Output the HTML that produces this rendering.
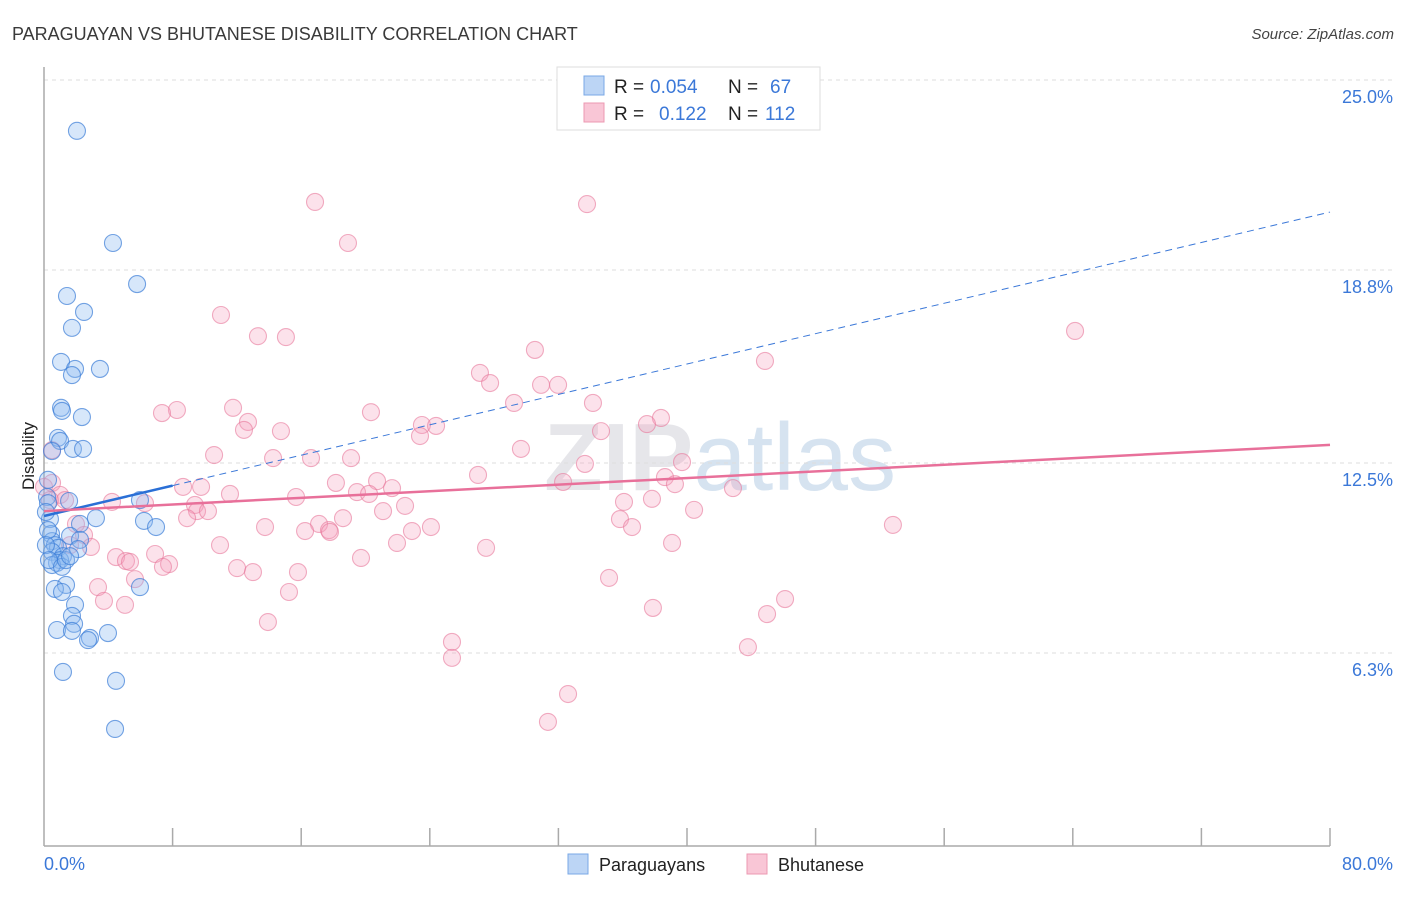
<!DOCTYPE html>
<html><head><meta charset="utf-8"><style>
body{margin:0;background:#fff;font-family:"Liberation Sans",sans-serif;}
svg text{font-family:"Liberation Sans",sans-serif;}
</style></head><body>
<svg width="1406" height="892" viewBox="0 0 1406 892" xmlns="http://www.w3.org/2000/svg">
<text x="12" y="40" font-size="18" fill="#3a3a3a">PARAGUAYAN VS BHUTANESE DISABILITY CORRELATION CHART</text>
<text x="1394" y="39" font-size="15" fill="#444" text-anchor="end" font-style="italic">Source: ZipAtlas.com</text>
<text x="720" y="490" font-size="96" fill="#e6e6ea" text-anchor="middle" font-weight="bold">ZIP<tspan fill="#d6e3f0" font-weight="normal">atlas</tspan></text>
<g id="grid"></g>
<line x1="44" y1="67" x2="44" y2="846" stroke="#aaa" stroke-width="1.5"/>
<line x1="44" y1="846" x2="1330" y2="846" stroke="#aaa" stroke-width="1.5"/>
<g id="xticks"></g>
<text transform="translate(34,456) rotate(-90)" font-size="17" fill="#222" text-anchor="middle">Disability</text>
<text x="44" y="870" font-size="18" fill="#3b78d8">0.0%</text>
<text x="1393" y="870" font-size="18" fill="#3b78d8" text-anchor="end">80.0%</text>
<g id="pink"></g><g id="blue"></g><g id="lines"></g>
<g>
<rect x="557" y="67" width="263" height="63" fill="#fff" stroke="#ddd"/>
<rect x="584" y="76" width="20" height="19" fill="#bcd5f5" stroke="#7aa8e6"/>
<rect x="584" y="103" width="20" height="19" fill="#f9c6d6" stroke="#ec98b2"/>
<text x="614" y="93" font-size="19" fill="#222">R =</text>
<text x="650" y="93" font-size="19" fill="#3b78d8">0.054</text>
<text x="728" y="93" font-size="19" fill="#222">N =</text>
<text x="770" y="93" font-size="19" fill="#3b78d8">67</text>
<text x="614" y="120" font-size="19" fill="#222">R =</text>
<text x="659" y="120" font-size="19" fill="#3b78d8">0.122</text>
<text x="728" y="120" font-size="19" fill="#222">N =</text>
<text x="765" y="120" font-size="19" fill="#3b78d8">112</text>
</g>
<g><rect x="568" y="854" width="20" height="20" fill="#bcd5f5" stroke="#7aa8e6"/><text x="599" y="871" font-size="18" fill="#222">Paraguayans</text></g>
<g><rect x="747" y="854" width="20" height="20" fill="#f9c6d6" stroke="#ec98b2"/><text x="778" y="871" font-size="18" fill="#222">Bhutanese</text></g>
</svg>
<script>
const yTicks=[6.3,12.5,18.8,25.0];
const yTickLabels=["6.3%","12.5%","18.8%","25.0%"];
const blueX=[2.05,4.29,5.79,1.43,2.49,1.74,1.06,1.93,1.74,3.48,1.06,1.12,2.36,0.87,1.00,1.80,2.43,0.50,0.25,0.19,1.56,0.25,5.97,0.37,3.23,2.24,6.22,6.97,0.44,1.62,2.24,0.50,0.68,0.87,0.50,1.18,1.00,2.12,0.81,0.50,1.37,0.68,1.12,5.97,1.93,1.74,1.87,0.81,1.74,3.98,2.86,2.74,1.18,4.48,4.42,0.25,0.12,0.12,0.31,1.12,1.37,1.62];
const blueY=[23.34,19.68,18.34,17.95,17.43,16.91,15.80,15.57,15.37,15.57,14.30,14.20,14.00,13.32,13.22,12.96,12.96,12.89,11.95,11.39,11.26,11.19,11.29,10.67,10.70,10.51,10.61,10.41,10.18,10.12,9.99,9.95,9.82,9.73,9.60,9.46,9.33,9.69,9.24,9.17,8.52,8.39,8.29,8.45,7.87,7.51,7.25,7.05,7.02,6.95,6.79,6.72,5.68,5.39,3.82,10.31,10.90,9.82,9.33,9.11,9.33,9.46];
const pinkX=[16.86,33.78,18.91,64.14,11.01,13.31,15.05,30.54,44.85,27.12,27.75,30.92,31.98,29.24,34.15,8.27,7.34,11.76,20.34,12.69,12.44,14.74,23.51,24.39,23.39,34.65,38.38,37.51,29.67,10.58,14.25,16.61,19.10,33.65,39.69,27.00,38.63,39.25,32.29,18.16,20.72,21.65,8.65,9.77,42.86,19.47,11.57,15.68,20.22,0.0,0.50,1.00,0.37,1.31,4.23,6.28,9.39,9.52,10.20,36.08,37.82,22.46,21.09,8.90,18.60,13.75,17.11,17.73,16.24,17.79,22.89,24.07,35.83,36.58,40.44,52.81,1.99,2.49,2.92,1.62,10.95,21.96,27.50,39.07,6.91,4.48,5.10,5.35,7.78,7.40,12.01,13.00,15.80,19.72,5.66,35.15,3.36,3.73,5.04,15.24,46.10,37.88,44.98,13.93,25.38,25.38,43.79,32.60,31.35,0.50];
const pinkY=[21.02,20.95,19.68,16.81,17.33,16.64,16.61,16.19,15.83,15.44,15.11,15.05,15.05,14.46,14.46,14.23,14.13,14.30,14.16,13.84,13.58,13.54,13.74,13.71,13.38,13.54,13.97,13.77,12.96,12.76,12.66,12.66,12.66,12.47,12.53,12.11,12.04,11.81,11.88,11.85,11.91,11.68,11.72,11.72,11.68,11.55,11.49,11.39,11.49,11.72,11.85,11.46,11.29,11.29,11.23,11.19,11.13,10.93,10.93,11.23,11.33,11.10,10.93,10.70,10.70,10.41,10.51,10.31,10.28,10.25,10.28,10.41,10.67,10.41,10.97,10.48,10.51,10.15,9.76,9.82,9.82,9.89,9.73,9.89,9.53,9.43,9.30,9.27,9.20,9.11,9.07,8.94,8.94,9.40,8.71,8.75,8.45,8.00,7.87,8.29,8.06,7.77,7.57,7.31,6.66,6.14,6.49,4.96,4.05,12.92];
const blueTrend=[10.77,20.69]; // y at x=0 and x=80
const pinkTrend=[10.93,13.09];
const blueSolidEnd=8;
const NS="http://www.w3.org/2000/svg";
const sx=v=>44+v*16.075, sy=v=>846-v*30.64;
function mk(tag,attrs,parent){const e=document.createElementNS(NS,tag);for(const k in attrs)e.setAttribute(k,attrs[k]);parent.appendChild(e);return e;}
const grid=document.getElementById('grid');
yTicks.forEach((t,i)=>{
 const l=mk('line',{x1:44,x2:1392,y1:sy(t),y2:sy(t),stroke:'#ddd','stroke-dasharray':'4,4'},grid);
 
 
 const tx=mk('text',{x:1393,y:sy(t)+23,'font-size':18,fill:'#3b78d8','text-anchor':'end'},grid);
 tx.textContent=yTickLabels[i];
 
 
});
const xt=document.getElementById('xticks');
for(let i=1;i<=10;i++){const l=mk('line',{x1:sx(i*8),x2:sx(i*8),y1:828,y2:846,stroke:'#aaa','stroke-width':1.5},xt);
 
 }
function pts(X,Y,g,fill,stroke,name){X.forEach((x,i)=>{const c=mk('circle',{cx:sx(x),cy:sy(Y[i]),r:8.5,fill:fill,stroke:stroke,'stroke-width':1.1},g);
 
 });}
pts(pinkX,pinkY,document.getElementById('pink'),'rgba(246,160,188,0.3)','rgba(232,120,155,0.6)','bhutanese-point');
pts(blueX,blueY,document.getElementById('blue'),'rgba(140,185,240,0.35)','rgba(60,125,215,0.7)','paraguayan-point');
const lg=document.getElementById('lines');
const by=x=>blueTrend[0]+(blueTrend[1]-blueTrend[0])*x/80;
const l1=mk('line',{x1:sx(blueSolidEnd),y1:sy(by(blueSolidEnd)),x2:sx(80),y2:sy(by(80)),stroke:'#3b78d8','stroke-width':1,'stroke-dasharray':'7,5'},lg);


const l2=mk('line',{x1:sx(0),y1:sy(by(0)),x2:sx(blueSolidEnd),y2:sy(by(blueSolidEnd)),stroke:'#2a6fd6','stroke-width':2.5},lg);


const l3=mk('line',{x1:sx(0),y1:sy(pinkTrend[0]),x2:sx(80),y2:sy(pinkTrend[1]),stroke:'#e8709a','stroke-width':2.5},lg);


</script>
</body></html>
